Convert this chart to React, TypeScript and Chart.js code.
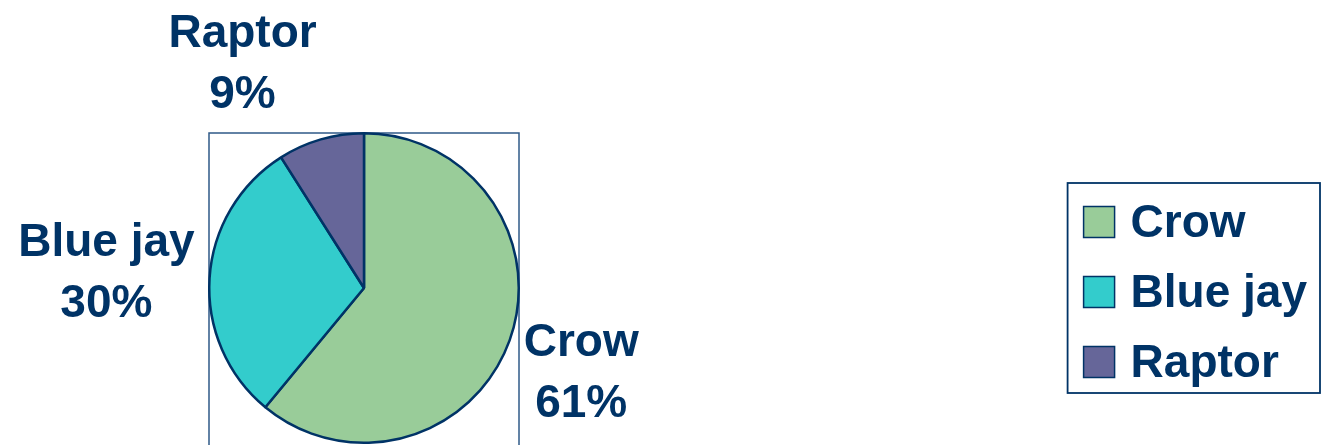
import React, { useEffect, useRef } from "react";
import { Chart, registerables } from "chart.js";

Chart.register(...registerables);

const categories = ["Crow", "Blue jay", "Raptor"];
const shares = [61, 30, 9];
const sliceColors = ["#99CC99", "#33CCCC", "#666699"];

const W = 1325;
const H = 445;
const NAVY = "#003366";
const BOX = "#2F5A88";
const FONT = "bold 46px Arial, 'Liberation Sans', sans-serif";

const plotFramePlugin = {
  id: "plotFrame",
  beforeDatasetsDraw(chart: any) {
    const { ctx, chartArea } = chart;
    ctx.save();
    ctx.strokeStyle = BOX;
    ctx.lineWidth = 1.5;
    ctx.strokeRect(chartArea.left + 1, chartArea.top + 1, chartArea.right - chartArea.left - 2, H + 10 - chartArea.top);
    ctx.restore();
  },
};

const outerLabelPlugin = {
  id: "outerLabels",
  afterDatasetsDraw(chart: any) {
    const ctx = chart.ctx;
    const meta = chart.getDatasetMeta(0);
    const data = chart.data.datasets[0].data as number[];
    const total = data.reduce((a: number, b: number) => a + b, 0);
    const lineH = 61;
    ctx.save();
    ctx.font = FONT;
    ctx.fillStyle = NAVY;
    ctx.textAlign = "center";
    ctx.textBaseline = "middle";
    meta.data.forEach((arc: any, i: number) => {
      const { x, y, startAngle, endAngle, outerRadius } = arc.getProps(
        ["x", "y", "startAngle", "endAngle", "outerRadius"],
        true
      );
      const mid = (startAngle + endAngle) / 2;
      const dx = Math.cos(mid);
      const dy = Math.sin(mid);
      const r = outerRadius + 15;
      const px = x + dx * r;
      const py = y + dy * r;
      const lines = [String(chart.data.labels[i]), Math.round((data[i] / total) * 100) + "%"];
      const w = Math.max(...lines.map((l) => ctx.measureText(l).width));
      const h = lines.length * lineH;
      const sx = Math.max(-1, Math.min(1, dx / 0.25));
      const sy = Math.max(-1, Math.min(1, dy * 1.3));
      const cx = px + (sx * w) / 2;
      const cy = py + (sy * h) / 2;
      lines.forEach((l, k) => ctx.fillText(l, cx, cy - h / 2 + lineH * (k + 0.5) + 1));
    });
    ctx.restore();
  },
};

const legendBoxPlugin = {
  id: "legendBox",
  afterDraw(chart: any) {
    const ctx = chart.ctx;
    const labels = chart.data.labels as string[];
    const colors = chart.data.datasets[0].backgroundColor as string[];
    const rowH = 70;
    const sw = 31;
    ctx.save();
    ctx.font = FONT;
    const textW = Math.max(...labels.map((l) => ctx.measureText(l).width));
    const boxW = 16 + sw + 16 + textW + 13;
    const boxH = labels.length * rowH;
    const cy = (chart.chartArea.top + chart.chartArea.bottom) / 2;
    const left = W - 5 - boxW;
    const top = cy - boxH / 2;
    ctx.strokeStyle = NAVY;
    ctx.lineWidth = 1.8;
    ctx.strokeRect(left, top, boxW, boxH);
    labels.forEach((l, i) => {
      const rc = top + rowH * (i + 0.5) + 4;
      ctx.fillStyle = colors[i];
      ctx.fillRect(left + 16, rc - sw / 2, sw, sw);
      ctx.strokeStyle = NAVY;
      ctx.lineWidth = 1.5;
      ctx.strokeRect(left + 16, rc - sw / 2, sw, sw);
      ctx.fillStyle = NAVY;
      ctx.textAlign = "left";
      ctx.textBaseline = "middle";
      ctx.fillText(l, left + 16 + sw + 16, rc + 2);
    });
    ctx.restore();
  },
};

export default function App() {
  const ref = useRef<HTMLCanvasElement | null>(null);

  useEffect(() => {
    if (!ref.current) return;
    const chart = new Chart(ref.current, {
      type: "pie",
      data: {
        labels: categories,
        datasets: [
          {
            data: shares,
            backgroundColor: sliceColors,
            borderColor: NAVY,
            borderWidth: 2.5,
          },
        ],
      },
      options: {
        animation: false,
        responsive: false,
        events: [],
        layout: { padding: { left: 208, right: W - 520, top: 132, bottom: 1 } },
        plugins: {
          legend: { display: false },
          tooltip: { enabled: false },
        },
      },
      plugins: [plotFramePlugin, outerLabelPlugin, legendBoxPlugin],
    });
    return () => chart.destroy();
  }, []);

  return (
    <div style={{ position: "absolute", left: 0, top: 0, width: W, height: H, background: "#fff" }}>
      <canvas ref={ref} width={W} height={H} style={{ width: W, height: H, display: "block" }} />
    </div>
  );
}
